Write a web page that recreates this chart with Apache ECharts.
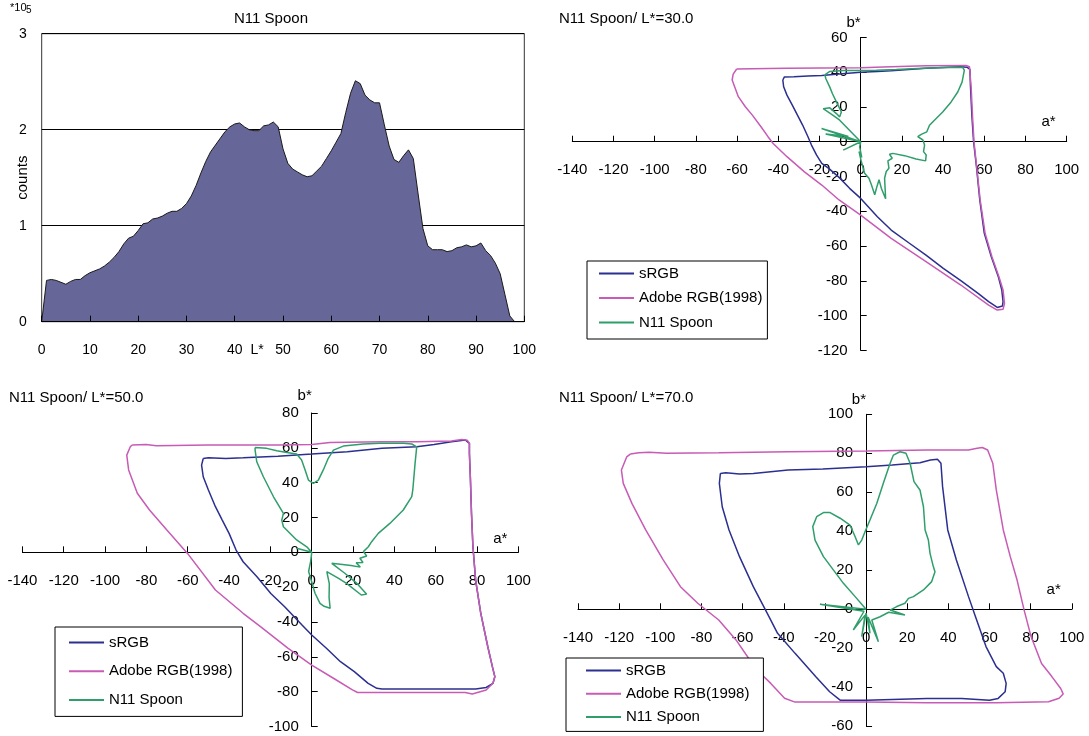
<!DOCTYPE html>
<html><head><meta charset="utf-8">
<script src="https://cdn.jsdelivr.net/npm/echarts@6/dist/echarts.min.js"></script>
<style>html,body{margin:0;padding:0;background:#fff}#c{width:1089px;height:736px}</style>
</head><body><div id="c"></div>
<script>
const FONT = '"Liberation Sans", Arial, sans-serif';

// Histogram (x10^5 counts) by L*
const histL = [0,1,2,3,4,5,6,7,8,9,10,11,12,13,14,15,16,17,18,19,20,21,22,23,24,25,26,27,28,29,30,31,32,33,34,35,36,37,38,39,40,41,42,43,44,45,46,47,48,49,50,51,52,53,54,55,56,57,58,59,60,61,62,63,64,65,66,67,68,69,70,71,72,73,74,75,76,77,78,79,80,81,82,83,84,85,86,87,88,89,90,91,92,93,94,95,96,97,98];
const histCounts = [0,0.43,0.44,0.43,0.41,0.39,0.42,0.44,0.44,0.48,0.51,0.53,0.55,0.58,0.62,0.67,0.73,0.81,0.87,0.89,0.95,1.02,1.03,1.07,1.08,1.10,1.13,1.15,1.15,1.18,1.23,1.31,1.42,1.55,1.67,1.77,1.84,1.91,1.98,2.03,2.06,2.07,2.03,2.00,1.99,1.99,2.04,2.05,2.08,2.03,1.80,1.65,1.59,1.56,1.53,1.51,1.52,1.57,1.62,1.70,1.78,1.87,1.96,2.18,2.38,2.51,2.48,2.36,2.31,2.28,2.28,2.05,1.83,1.69,1.66,1.73,1.79,1.70,1.33,0.97,0.79,0.75,0.75,0.75,0.73,0.74,0.77,0.78,0.80,0.78,0.79,0.82,0.74,0.69,0.61,0.50,0.28,0.06,0];

const legendNames = ['sRGB', 'Adobe RGB(1998)', 'N11 Spoon'];

// L* = 30 gamut slices [a*, b*]
const srgb30 = [[-37.8,35.5],[-37.1,37.2],[-32.4,37.4],[-25.6,37.8],[-18.9,38.1],[-10.5,38.9],[0,39.9],[8.1,40.4],[14.8,40.8],[23.3,41.6],[31.7,42.2],[40.1,42.7],[48.6,43.1],[51.6,42.9],[53,41.6],[53.3,31.6],[54,14.4],[54.8,0],[56.2,-14.4],[57.8,-33.5],[60,-52.7],[63.4,-66.1],[66.8,-77.6],[68.5,-85.3],[69.1,-92],[68.8,-94.5],[66.3,-95.3],[62.1,-92],[57,-87.2],[48.6,-79.9],[40.1,-72.8],[31.7,-65.2],[23.3,-58.1],[14.8,-50.8],[8.1,-43.1],[0,-32.6],[-5.4,-26.8],[-10.5,-20.5],[-15.5,-15.3],[-18.9,-12.5],[-21.4,-7.7],[-23.9,-1.9],[-25.6,2.9],[-28.2,9.6],[-30.7,15.3],[-33.2,21.1],[-35.8,26.8],[-37.4,31.6],[-37.8,35.5]];
const adobe30 = [[-60.2,41.8],[-52.6,42],[-35.8,42.2],[-18.9,42.4],[0,42.6],[14.8,43.1],[31.7,43.7],[51.1,43.9],[52.8,43.1],[53.6,31.6],[54.3,14.4],[55,0],[56.3,-14.4],[58,-33.5],[60.4,-52.7],[63.7,-66.1],[67.1,-77.6],[69.1,-85.3],[69.8,-93],[69.1,-96.4],[66.3,-96.8],[62.1,-94],[48.6,-82.4],[31.7,-69],[14.8,-55.6],[0,-42.2],[-10.5,-33.5],[-18.9,-24.9],[-27.3,-17.3],[-35.8,-8.6],[-42.5,-1],[-45,2.9],[-48.4,8.6],[-52.6,15.3],[-56,20.1],[-59.4,25.9],[-62.4,35.5],[-61.9,38.9],[-60.2,41.8]];
const spoon30 = [[-17.4,38.5],[-15,40.4],[-8.5,41],[0,41],[7.6,41.1],[17.3,41.5],[30.2,42.3],[41.5,42.7],[49.5,42.9],[50.3,41],[49.2,34.3],[47.1,28.6],[43.9,22.9],[39.8,17.1],[35.8,12.4],[33.4,9.5],[32.1,5.7],[29.4,4.2],[27.7,2.9],[30.2,1],[31,-1.9],[30.5,-5.7],[31.8,-7.6],[31.5,-11],[26.9,-9.9],[21.3,-8],[15.6,-6.7],[14,-7.2],[15.3,-9.5],[13.2,-11],[13.7,-15.2],[12.4,-17.1],[11.6,-21],[12.1,-32.8],[10,-26.7],[8.9,-21.9],[7.9,-25.7],[6.8,-30.5],[5.2,-24.8],[4,-21],[1.9,-18.1],[0.3,-11.4],[-0.8,-5.7],[0.5,-9],[-0.5,-3],[0,0],[-8.5,-4.8],[0,0],[-19,7.6],[-6,3],[-17,4.5],[0,0],[-10.2,12.4],[-13.4,15.2],[-18.2,19],[-15,19.5],[-11.8,16.2],[-10.2,14.3],[-9.4,17.1],[-11.8,22.9],[-13.7,27.6],[-15,31.4],[-16.9,36.2],[-17.4,38.5]];

// L* = 50
const srgb50 = [[-52.5,53.9],[-50,54.3],[-41.6,53.9],[-33.2,54.3],[-16.4,55.2],[0,56.4],[17.2,57.8],[34,59.7],[50.8,60.6],[59.2,61.9],[67.6,63.5],[74.3,64.5],[76.3,62.6],[76.3,56.8],[76.8,41.5],[77.3,22.4],[78,3.2],[79.3,-15.9],[81.8,-35],[85.2,-54.2],[87.4,-65.6],[88.6,-71.4],[87.7,-75.2],[84.4,-77.6],[79.3,-78.5],[67.6,-78.5],[50.8,-78.5],[34,-78.5],[31.5,-78.1],[27.3,-75.2],[20.6,-68.5],[13.9,-62.8],[7.1,-55.1],[0,-47.5],[-4.7,-41.7],[-13.1,-31.2],[-19.8,-23.6],[-26.5,-14],[-33.2,-5.4],[-36.6,1.3],[-40,10.9],[-43.3,18.5],[-46.6,26.2],[-50,35.8],[-52.5,43.4],[-53.3,50.1],[-52.5,53.9]];
const adobe50 = [[-86.9,61.6],[-80.2,61.9],[-75.2,61.2],[-66.8,61.4],[-50,61.6],[-33.2,61.6],[-16.4,61.6],[0,61.9],[8.8,63.1],[34,63.5],[50.8,63.5],[67.6,63.9],[72.6,64.8],[75.2,64.4],[76.3,62.6],[76.3,56.8],[76.8,41.5],[77.3,22.4],[78,3.2],[79.3,-15.9],[81.8,-35],[85.2,-54.2],[87.4,-65.6],[88.6,-71.4],[87.7,-75.2],[84.4,-79],[77.7,-81.3],[74.3,-80.5],[50.8,-80.5],[34,-80.5],[22.2,-80.5],[19.7,-79],[10.5,-72.3],[0,-64.7],[-11.4,-55.1],[-24.8,-42.7],[-33.2,-35],[-46.6,-21.6],[-60.1,-0.6],[-70.1,12.8],[-78.5,24.3],[-84.4,33.9],[-88.6,47.3],[-89.5,55.8],[-87.8,60.6],[-86.9,61.6]];
const spoon50 = [[-27.4,60.2],[-26.6,60.6],[-21.8,59.7],[-16.9,58.3],[-11.3,57.2],[-7.3,56.4],[-4.9,53],[-3.2,47.3],[-1.6,41.5],[0.8,39.6],[3.2,41.5],[5.6,47.3],[8,54],[10.5,58.7],[15.3,61],[25,62.2],[33,62.6],[44.3,62.6],[48.4,62.2],[50.8,60.6],[50,51.1],[48.9,35.8],[48.4,32],[44.3,24.3],[37.8,16.6],[32.2,10.9],[29,6.1],[27.4,3.2],[25,0.4],[26.6,-2.1],[23.3,-3.4],[24.8,-5.8],[21.5,-6],[23.5,-8.5],[19,-7.5],[9.7,-6.3],[16,-12],[22,-18],[26.6,-24],[24,-24.5],[17,-18],[13,-15],[7.3,-11.1],[8.5,-18],[8.4,-26],[8.9,-32.1],[6,-31],[4,-29.3],[1.6,-23.5],[-1.5,-11],[-0.5,-5],[0,0],[-7.3,2.3],[0,0],[-2.4,3.2],[-7.3,7.1],[-13.7,14.7],[-14.5,18.5],[-13.7,22.4],[-18.5,31.9],[-23.4,43.4],[-26.6,52],[-27.4,58.7],[-27.4,60.2]];

// L* = 70
const srgb70 = [[-70.8,69.7],[-68.2,70],[-61.5,69.4],[-54.8,69.7],[-37.9,71.4],[-21,71.9],[0,73.1],[12.7,74],[26.2,75.2],[31.3,76.6],[34.7,76.9],[36.4,74.9],[37.2,62.9],[39.7,40.7],[43.9,25.3],[49.8,6.5],[53.2,-3.8],[58.3,-19.1],[63.3,-29.4],[66.7,-32.8],[68.1,-38],[67.6,-42.3],[64.2,-45.7],[60,-46.6],[46.5,-45.7],[29.6,-45.7],[12.7,-46.2],[0,-46.6],[-12.6,-46.6],[-17.7,-42.3],[-24.4,-34.6],[-34.5,-22.6],[-43,-12.3],[-48,-2.1],[-54.8,11.6],[-61.5,27],[-66.6,40.7],[-69.9,52.6],[-71.3,64.6],[-70.8,69.7]];
const adobe70 = [[-114.6,79.6],[-110.4,80.3],[-105.4,80.6],[-96.9,80],[-71.6,80.3],[-37.9,80.8],[0,81.2],[29.6,81.7],[49.8,81.7],[54,82.6],[56.5,83],[59.1,81.7],[61.6,74.9],[63.3,61.2],[66.7,40.7],[70.1,27],[73.4,15],[76.8,-0.3],[80.2,-14],[85.3,-27.8],[90.3,-34.5],[94.6,-40.6],[95.8,-43.4],[93.8,-45.6],[88.7,-47.4],[63.3,-47.9],[29.6,-47.9],[0,-47.6],[-34.5,-47.6],[-39.6,-45.6],[-46.3,-38],[-51.4,-32.8],[-56.5,-26],[-63.2,-15.7],[-71.6,-5.5],[-81.8,3.1],[-90.2,11.6],[-98.6,25.3],[-107.1,40.7],[-113.8,54.3],[-118,64.6],[-118.9,71.4],[-116.3,78.2],[-114.6,79.6]];
const spoon70 = [[0,0],[-5.3,6.5],[-11,13.3],[-15.9,20.2],[-20.7,27],[-24.8,35.5],[-25.9,42.4],[-24,47.5],[-20.7,49.6],[-17.5,49.6],[-12.6,46.7],[-7.8,43.2],[-5.3,37.2],[-3.7,33],[-2.1,35.5],[-0.5,39.8],[1.9,45.8],[5.2,54.3],[8.4,64.6],[11.7,74.9],[13.3,79.1],[16.5,80.8],[19.4,80],[21.4,74.9],[23.3,65.5],[26.2,61.2],[27.9,52.6],[28.7,40.7],[30.3,35.5],[31.1,28.7],[32.7,21.9],[33.5,19.3],[31.9,14.2],[27.9,9.9],[23,6.5],[20.6,5.6],[18.9,3.1],[14.9,1.4],[11.7,-0.4],[18.9,-2.9],[11,-1.5],[6.8,-3.8],[2.8,-5.5],[6,-16.6],[1,-4],[1.9,-12.3],[0,-2],[-2.1,-14],[-0.5,-3],[-6.2,-10.6],[-1,-1],[-22.4,2.6],[0,0]];

const A_MIN = -140, A_MAX = 100;
const COLORS = { 'sRGB': '#2b2f8f', 'Adobe RGB(1998)': '#c75bb5', 'N11 Spoon': '#2f9e6b' };

const panels = [
  { grid: { left: 572.3, top: 37.4, width: 494.4, height: 313 }, ymin: -120, ymax: 60, aPad: 12, bGap: 7, curves: [srgb30, adobe30, spoon30],
    legend: { left: 587, top: 261, padding: [5, 5, 9, 12], itemGap: 9.5 } },
  { grid: { left: 22.4, top: 413, width: 496, height: 313.5 }, ymin: -100, ymax: 80, aPad: 6, bGap: 10, curves: [srgb50, adobe50, spoon50],
    legend: { left: 55, top: 627, padding: [8, 10, 9, 14], itemGap: 13.7 } },
  { grid: { left: 578, top: 414.3, width: 493.8, height: 312 }, ymin: -60, ymax: 100, aPad: 12, bGap: 7, curves: [srgb70, adobe70, spoon70],
    legend: { left: 566, top: 658, padding: [5, 14, 7, 20], itemGap: 8.2 } }
];

const txt = (extra) => Object.assign({ color: '#000', fontFamily: FONT }, extra);

const grids = [{ left: 41.7, top: 33.7, width: 482.6, height: 288, show: true, borderColor: '#333', borderWidth: 1 }];
const xAxes = [{
  gridIndex: 0, type: 'value', min: 0, max: 100, interval: 10, z: 5,
  name: 'L*', nameLocation: 'middle', nameGap: 21, nameMoveOverlap: false,
  nameTextStyle: txt({ fontSize: 14, padding: [0, 52, 0, 0] }),
  axisLine: { lineStyle: { color: '#000', width: 1 } },
  axisTick: { inside: true, length: 6, lineStyle: { color: '#000' } },
  axisLabel: txt({ margin: 21, fontSize: 14 }),
  splitLine: { show: false }
}];
const yAxes = [{
  gridIndex: 0, type: 'value', min: 0, max: 3, interval: 1,
  name: 'counts', nameLocation: 'middle', nameGap: 11, nameMoveOverlap: false,
  nameTextStyle: txt({ fontSize: 15 }),
  axisLine: { show: false }, axisTick: { show: false },
  axisLabel: txt({ margin: 15, fontSize: 14 }),
  splitLine: { show: true, lineStyle: { color: '#000', width: 1 } }
}];
const series = [{
  name: 'histogram', type: 'line', xAxisIndex: 0, yAxisIndex: 0, symbol: 'none',
  data: histL.map((l, i) => [l, histCounts[i]]),
  lineStyle: { color: '#1a1a1a', width: 1 },
  areaStyle: { color: '#666699', opacity: 1 },
  itemStyle: { color: '#666699' }
}];
const legends = [];

panels.forEach((p, k) => {
  const gi = k + 1;
  grids.push(p.grid);
  // place the axes through the origin
  const xOff = -p.grid.height * (0 - p.ymin) / (p.ymax - p.ymin);
  const yOff = -p.grid.width * (0 - A_MIN) / (A_MAX - A_MIN);
  xAxes.push({
    gridIndex: gi, type: 'value', min: A_MIN, max: A_MAX, interval: 20, offset: xOff,
    name: 'a*', nameLocation: 'end', nameGap: -11, nameMoveOverlap: false,
    nameTextStyle: txt({ fontSize: 15, align: 'right', verticalAlign: 'bottom', padding: [0, 0, p.aPad, 0] }),
    axisLine: { onZero: false, lineStyle: { color: '#000', width: 1 } },
    axisTick: { inside: true, length: 6, lineStyle: { color: '#000' } },
    axisLabel: txt({ margin: 21, fontSize: 15 }),
    splitLine: { show: false }
  });
  yAxes.push({
    gridIndex: gi, type: 'value', min: p.ymin, max: p.ymax, interval: 20, offset: yOff,
    name: 'b*', nameLocation: 'end', nameGap: p.bGap, nameMoveOverlap: false,
    nameTextStyle: txt({ fontSize: 15, align: 'right', verticalAlign: 'bottom' }),
    axisLine: { onZero: false, lineStyle: { color: '#000', width: 1 } },
    axisTick: { inside: true, length: 6, lineStyle: { color: '#000' } },
    axisLabel: txt({ margin: 13, fontSize: 15 }),
    splitLine: { show: false }
  });
  p.curves.forEach((c, j) => {
    const nm = legendNames[j];
    series.push({
      name: nm, type: 'line', xAxisIndex: gi, yAxisIndex: gi, symbol: 'none', z: 3 + (j === 2 ? 1 : 0),
      data: c, lineStyle: { color: COLORS[nm], width: 1.5 }, itemStyle: { color: COLORS[nm] }
    });
  });
  legends.push(Object.assign({
    orient: 'vertical', itemWidth: 35, itemHeight: 2, icon: 'rect', selectedMode: false,
    borderColor: '#000', borderWidth: 1, borderRadius: 0, backgroundColor: '#fff',
    textStyle: txt({ fontSize: 15, lineHeight: 15 }), data: legendNames
  }, p.legend));
});

const chart = echarts.init(document.getElementById('c'), null, { renderer: 'canvas' });
chart.setOption({
  animation: false,
  backgroundColor: '#fff',
  grid: grids, xAxis: xAxes, yAxis: yAxes, series: series, legend: legends,
  graphic: [
    { type: 'text', x: 271, y: 19, style: { text: 'N11 Spoon', fill: '#000', font: '15px ' + FONT, align: 'center', verticalAlign: 'middle' } },
    { type: 'text', x: 10, y: 8, style: { text: '*10', fill: '#000', font: '11px ' + FONT, align: 'left', verticalAlign: 'middle' } },
    { type: 'text', x: 26, y: 10, style: { text: '5', fill: '#000', font: '10px ' + FONT, align: 'left', verticalAlign: 'middle' } },
    { type: 'text', x: 559, y: 19, style: { text: 'N11 Spoon/ L*=30.0', fill: '#000', font: '15px ' + FONT, align: 'left', verticalAlign: 'middle' } },
    { type: 'text', x: 9, y: 398, style: { text: 'N11 Spoon/ L*=50.0', fill: '#000', font: '15px ' + FONT, align: 'left', verticalAlign: 'middle' } },
    { type: 'text', x: 559, y: 398, style: { text: 'N11 Spoon/ L*=70.0', fill: '#000', font: '15px ' + FONT, align: 'left', verticalAlign: 'middle' } }
  ]
});
</script>
</body></html>
